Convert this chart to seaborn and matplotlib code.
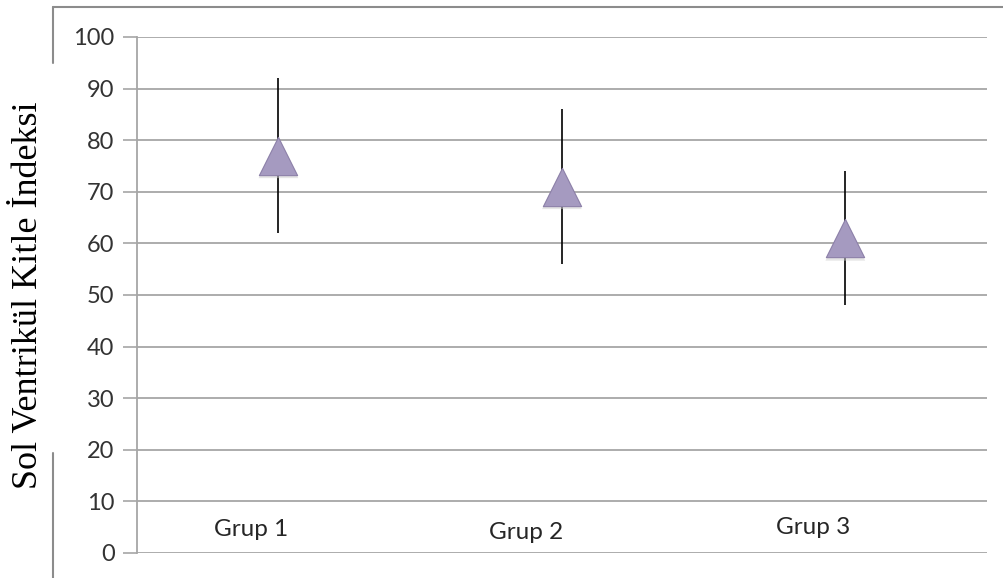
import matplotlib
matplotlib.use('Agg')
import matplotlib.pyplot as plt
import seaborn as sns
import pandas as pd
from matplotlib.lines import Line2D

# Veriler
gruplar = ["Grup 1", "Grup 2", "Grup 3"]
ortalama = [77, 71, 61]
alt_sinir = [62, 56, 48]
ust_sinir = [92, 86, 74]
etiket_y = [4.5, 3.9, 5.0]
y_ticks = list(range(0, 101, 10))

df = pd.DataFrame({"grup": gruplar, "ort": ortalama})

sns.set_theme(style="white")
plt.rcParams['font.family'] = ['Lato', 'DejaVu Sans']

fig = plt.figure(figsize=(10.04, 5.78), dpi=100)
ax = fig.add_axes([0.1362, 0.0433, 0.8469, 0.8927])

# izgara cizgileri
for v in y_ticks:
    ax.axhline(v, color='#a6a6a6', lw=1.3, zorder=0)

# hata cubuklari
ax.vlines(range(len(gruplar)), alt_sinir, ust_sinir, color='black', lw=1.2, zorder=2)

# golge
sns.scatterplot(data=df, x="grup", y="ort", marker='^', s=820, color='#cfcfcf',
                edgecolor='none', alpha=0.5, ax=ax, zorder=2, legend=False)
for c in ax.collections[-1:]:
    off = c.get_offsets()
    c.set_offsets(off + [[0.0, -0.5]])

# ucgen isaretler
sns.scatterplot(data=df, x="grup", y="ort", marker='^', s=760, color='#a59ac0',
                edgecolor='#8c80a8', linewidth=0.8, ax=ax, zorder=3, legend=False)

ax.set_xlim(-0.5, 2.5)
ax.set_ylim(0, 100)
ax.set_yticks(y_ticks)
ax.set_xticks([])
ax.set_xlabel("")
ax.tick_params(axis='y', length=10, width=1.2, color='#a6a6a6', labelsize=17,
               labelcolor='#333333', pad=6, left=True)
for s in ['top', 'right', 'bottom']:
    ax.spines[s].set_visible(False)
ax.spines['left'].set_color('#a6a6a6')
ax.spines['left'].set_linewidth(1.3)

# grup etiketleri
for i, (g, yv) in enumerate(zip(gruplar, etiket_y)):
    dx = [-27, -36, -32][i]
    ax.annotate(g, (i, yv), xytext=(dx * 0.72, 0), textcoords='offset points',
                ha='center', va='center', fontsize=17.5, color='#262626')

ax.set_ylabel("Sol Ventrikül Kitle İndeksi", family=['Liberation Serif', 'DejaVu Serif'],
              fontsize=26, color='black')
ax.yaxis.set_label_coords(-0.108, 0.5)

# dis cerceve
fc = '#8c8c8c'
fig.add_artist(Line2D([53 / 1004, 1.0], [1 - 7 / 578] * 2, color=fc, lw=1.5))
fig.add_artist(Line2D([53 / 1004] * 2, [1 - 7 / 578, 1 - 63 / 578], color=fc, lw=1.5))
fig.add_artist(Line2D([53 / 1004] * 2, [1 - 453 / 578, 0], color=fc, lw=1.5))

plt.savefig("out.png", dpi=100)
plt.close()
